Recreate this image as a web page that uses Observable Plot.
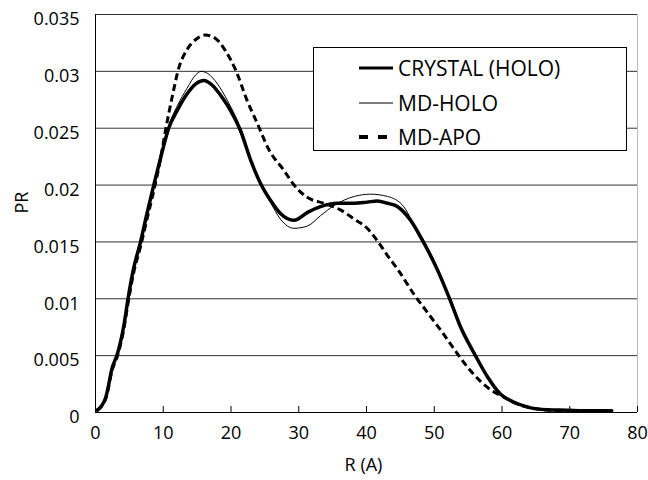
<!DOCTYPE html>
<html>
<head>
<meta charset="utf-8">
<script src="https://cdn.jsdelivr.net/npm/d3@7"></script>
<script src="https://cdn.jsdelivr.net/npm/@observablehq/plot@0.6"></script>
<style>
  body { margin: 0; background: #fff; }
  #wrap { position: relative; width: 648px; height: 480px; font-family: "Open Sans", sans-serif; }
  #legend { position: absolute; left: 313px; top: 47px; width: 312px; height: 102px; border: 1px solid #000; background: #fff; }
</style>
</head>
<body>
<div id="wrap"></div>
<script>
// ---- data ----
const seriesNames = ["CRYSTAL (HOLO)", "MD-HOLO", "MD-APO"];

const crystalR  = [0.25,1.5,2.5,3.2,4.2,4.8,5.6,6.65,7.6,8.6,9.7,10.8,12.1,13.5,14.8,16.0,17.2,18.7,19.9,21.4,22.9,24.4,25.9,27.3,29.3,31.3,33.2,35.7,38.2,40.1,41.6,43.1,44.6,46.5,48.2,50.5,52.2,53.9,55.9,57.9,59.8,61.8,63.8,66.7,69.7,72.0,76.2];
const crystalPR = [0.0002,0.0013,0.0040,0.0051,0.0077,0.0100,0.0126,0.0150,0.0175,0.0200,0.0226,0.0250,0.0266,0.0280,0.0289,0.0292,0.0288,0.0277,0.0266,0.0248,0.0222,0.0201,0.0186,0.0175,0.0169,0.0176,0.0181,0.0184,0.0184,0.0185,0.0186,0.0184,0.0181,0.0169,0.0152,0.0125,0.0101,0.0075,0.0052,0.0031,0.0016,0.0009,0.00047,0.00024,0.0002,0.00015,0.00015];

const holoR  = [0.25,1.5,2.5,3.2,4.2,4.8,5.6,6.65,7.6,8.6,9.7,10.8,12.1,13.5,14.8,15.6,16.6,18.0,19.5,21.4,22.9,24.4,25.9,27.3,29.3,31.3,33.2,35.2,38.2,40.6,43.1,45.5,46.5,48.2,50.5,52.2,53.9,55.9,57.9,59.8,61.8,63.8,66.7,69.7,72.0,76.2];
const holoPR = [0.0002,0.0013,0.0040,0.0051,0.0077,0.0100,0.0126,0.0150,0.0175,0.0200,0.0227,0.0252,0.0270,0.0285,0.0297,0.0300,0.0298,0.0289,0.0274,0.0250,0.0223,0.0200,0.0184,0.0170,0.0162,0.0164,0.0173,0.0182,0.0190,0.0192,0.0190,0.0181,0.0171,0.0154,0.0127,0.0103,0.0077,0.0053,0.0032,0.0017,0.0009,0.00047,0.00024,0.0002,0.00015,0.00015];

const apoR  = [0.25,1.5,2.5,3.2,4.2,4.8,5.6,6.65,7.6,8.6,9.5,10.3,11.3,12.3,13.5,14.8,16.2,17.7,19.2,20.7,22.4,23.9,25.6,27.8,29.3,31.3,33.7,36.2,38.2,40.1,41.6,43.1,44.6,47.0,49.0,51.0,52.9,54.9,56.9,58.8,60.3,62.0,64.0,66.7,69.7,72.0,76.2];
const apoPR = [0.0002,0.0012,0.0038,0.0049,0.0074,0.0096,0.0122,0.0146,0.0170,0.0195,0.0220,0.0247,0.0277,0.0303,0.0319,0.0328,0.0332,0.0329,0.0318,0.0301,0.0274,0.0254,0.0231,0.0213,0.0200,0.0189,0.0184,0.0178,0.0170,0.0162,0.0151,0.0138,0.0126,0.0104,0.0088,0.0072,0.0056,0.0040,0.0027,0.0018,0.00135,0.0008,0.00045,0.00022,0.00015,0.0001,0.0001];

const xTicks = [0,10,20,30,40,50,60,70,80];
const xTickLabels = ["0","10","20","30","40","50","60","70","80"];
const yTicks = [0,0.005,0.01,0.015,0.02,0.025,0.03,0.035];
const yTickLabels = ["0","0.005","0.01","0.015","0.02","0.025","0.03","0.035"];
const xLabel = "R (A)";
const yLabel = "PR";

// ---- build tables ----
const crystal = crystalR.map((r, i) => ({r, pr: crystalPR[i]}));
const holo = holoR.map((r, i) => ({r, pr: holoPR[i]}));
const apo = apoR.map((r, i) => ({r, pr: apoPR[i]}));

const W = 648, H = 480, mL = 95, mR = 11, mT = 14, mB = 68;

const chart = Plot.plot({
  width: W, height: H,
  marginLeft: mL, marginRight: mR, marginTop: mT, marginBottom: mB,
  style: {fontFamily: "'Open Sans', sans-serif", color: "#000", background: "#fff"},
  x: {domain: [0, 80], axis: null, label: null},
  y: {domain: [0, 0.035], axis: null, label: null},
  marks: [
    Plot.ruleY(yTicks.filter(d => d > 0), {y: d => d, stroke: "#333", strokeWidth: 1}),
    Plot.ruleX([xTicks[xTicks.length - 1]], {x: d => d, stroke: "#bbb", strokeWidth: 1}),
    Plot.axisY(yTicks, {tickSize: 0, tickPadding: 16, fontSize: 18, dy: 5, label: null,
      tickFormat: d => yTickLabels[yTicks.indexOf(d)]}),
    Plot.axisX(xTicks, {tickSize: 0, tickPadding: 14, fontSize: 18, label: null,
      tickFormat: d => xTickLabels[xTicks.indexOf(d)]}),
    Plot.tickX(xTicks.filter(d => d > 0), {x: d => d, stroke: "#000", strokeWidth: 1, insetTop: H - mT - mB - 6}),
    Plot.ruleX([0], {stroke: "#000", strokeWidth: 1}),
    Plot.ruleY([0], {stroke: "#000", strokeWidth: 1}),
    Plot.line(crystal, {x: "r", y: "pr", stroke: "#000", strokeWidth: 3.5, curve: "monotone-x"}),
    Plot.line(holo, {x: "r", y: "pr", stroke: "#000", strokeWidth: 1, curve: "monotone-x"}),
    Plot.line(apo, {x: "r", y: "pr", stroke: "#000", strokeWidth: 3, strokeDasharray: "7,4", strokeLinecap: "butt", curve: "monotone-x"}),
    Plot.text([xLabel], {text: d => d, frameAnchor: "bottom", dy: 58, dx: -3, fontSize: 18, fill: "#000"}),
    Plot.text([yLabel], {text: d => d, frameAnchor: "left", dx: -73, rotate: -90, fontSize: 18, fill: "#000"})
  ]
});

const wrap = document.getElementById("wrap");
wrap.appendChild(chart);

// ---- legend ----
const legend = document.createElement("div");
legend.id = "legend";
const styles = [
  {w: 3, dash: null},
  {w: 1, dash: null},
  {w: 4, dash: "9,10"}
];
const rowsY = [20, 55, 89];
let svg = `<svg width="312" height="102" xmlns="http://www.w3.org/2000/svg">`;
seriesNames.forEach((name, i) => {
  const s = styles[i];
  const x2 = s.dash ? 73 : 79;
  svg += `<line x1="45" x2="${x2}" y1="${rowsY[i]}" y2="${rowsY[i]}" stroke="#000" stroke-width="${s.w}"${s.dash ? ` stroke-dasharray="${s.dash}"` : ""}/>`;
  svg += `<text x="84" y="${rowsY[i]}" dy="0.36em" font-family="'Open Sans', sans-serif" font-size="21" fill="#000">${name}</text>`;
});
svg += `</svg>`;
legend.innerHTML = svg;
wrap.appendChild(legend);
</script>
</body>
</html>
